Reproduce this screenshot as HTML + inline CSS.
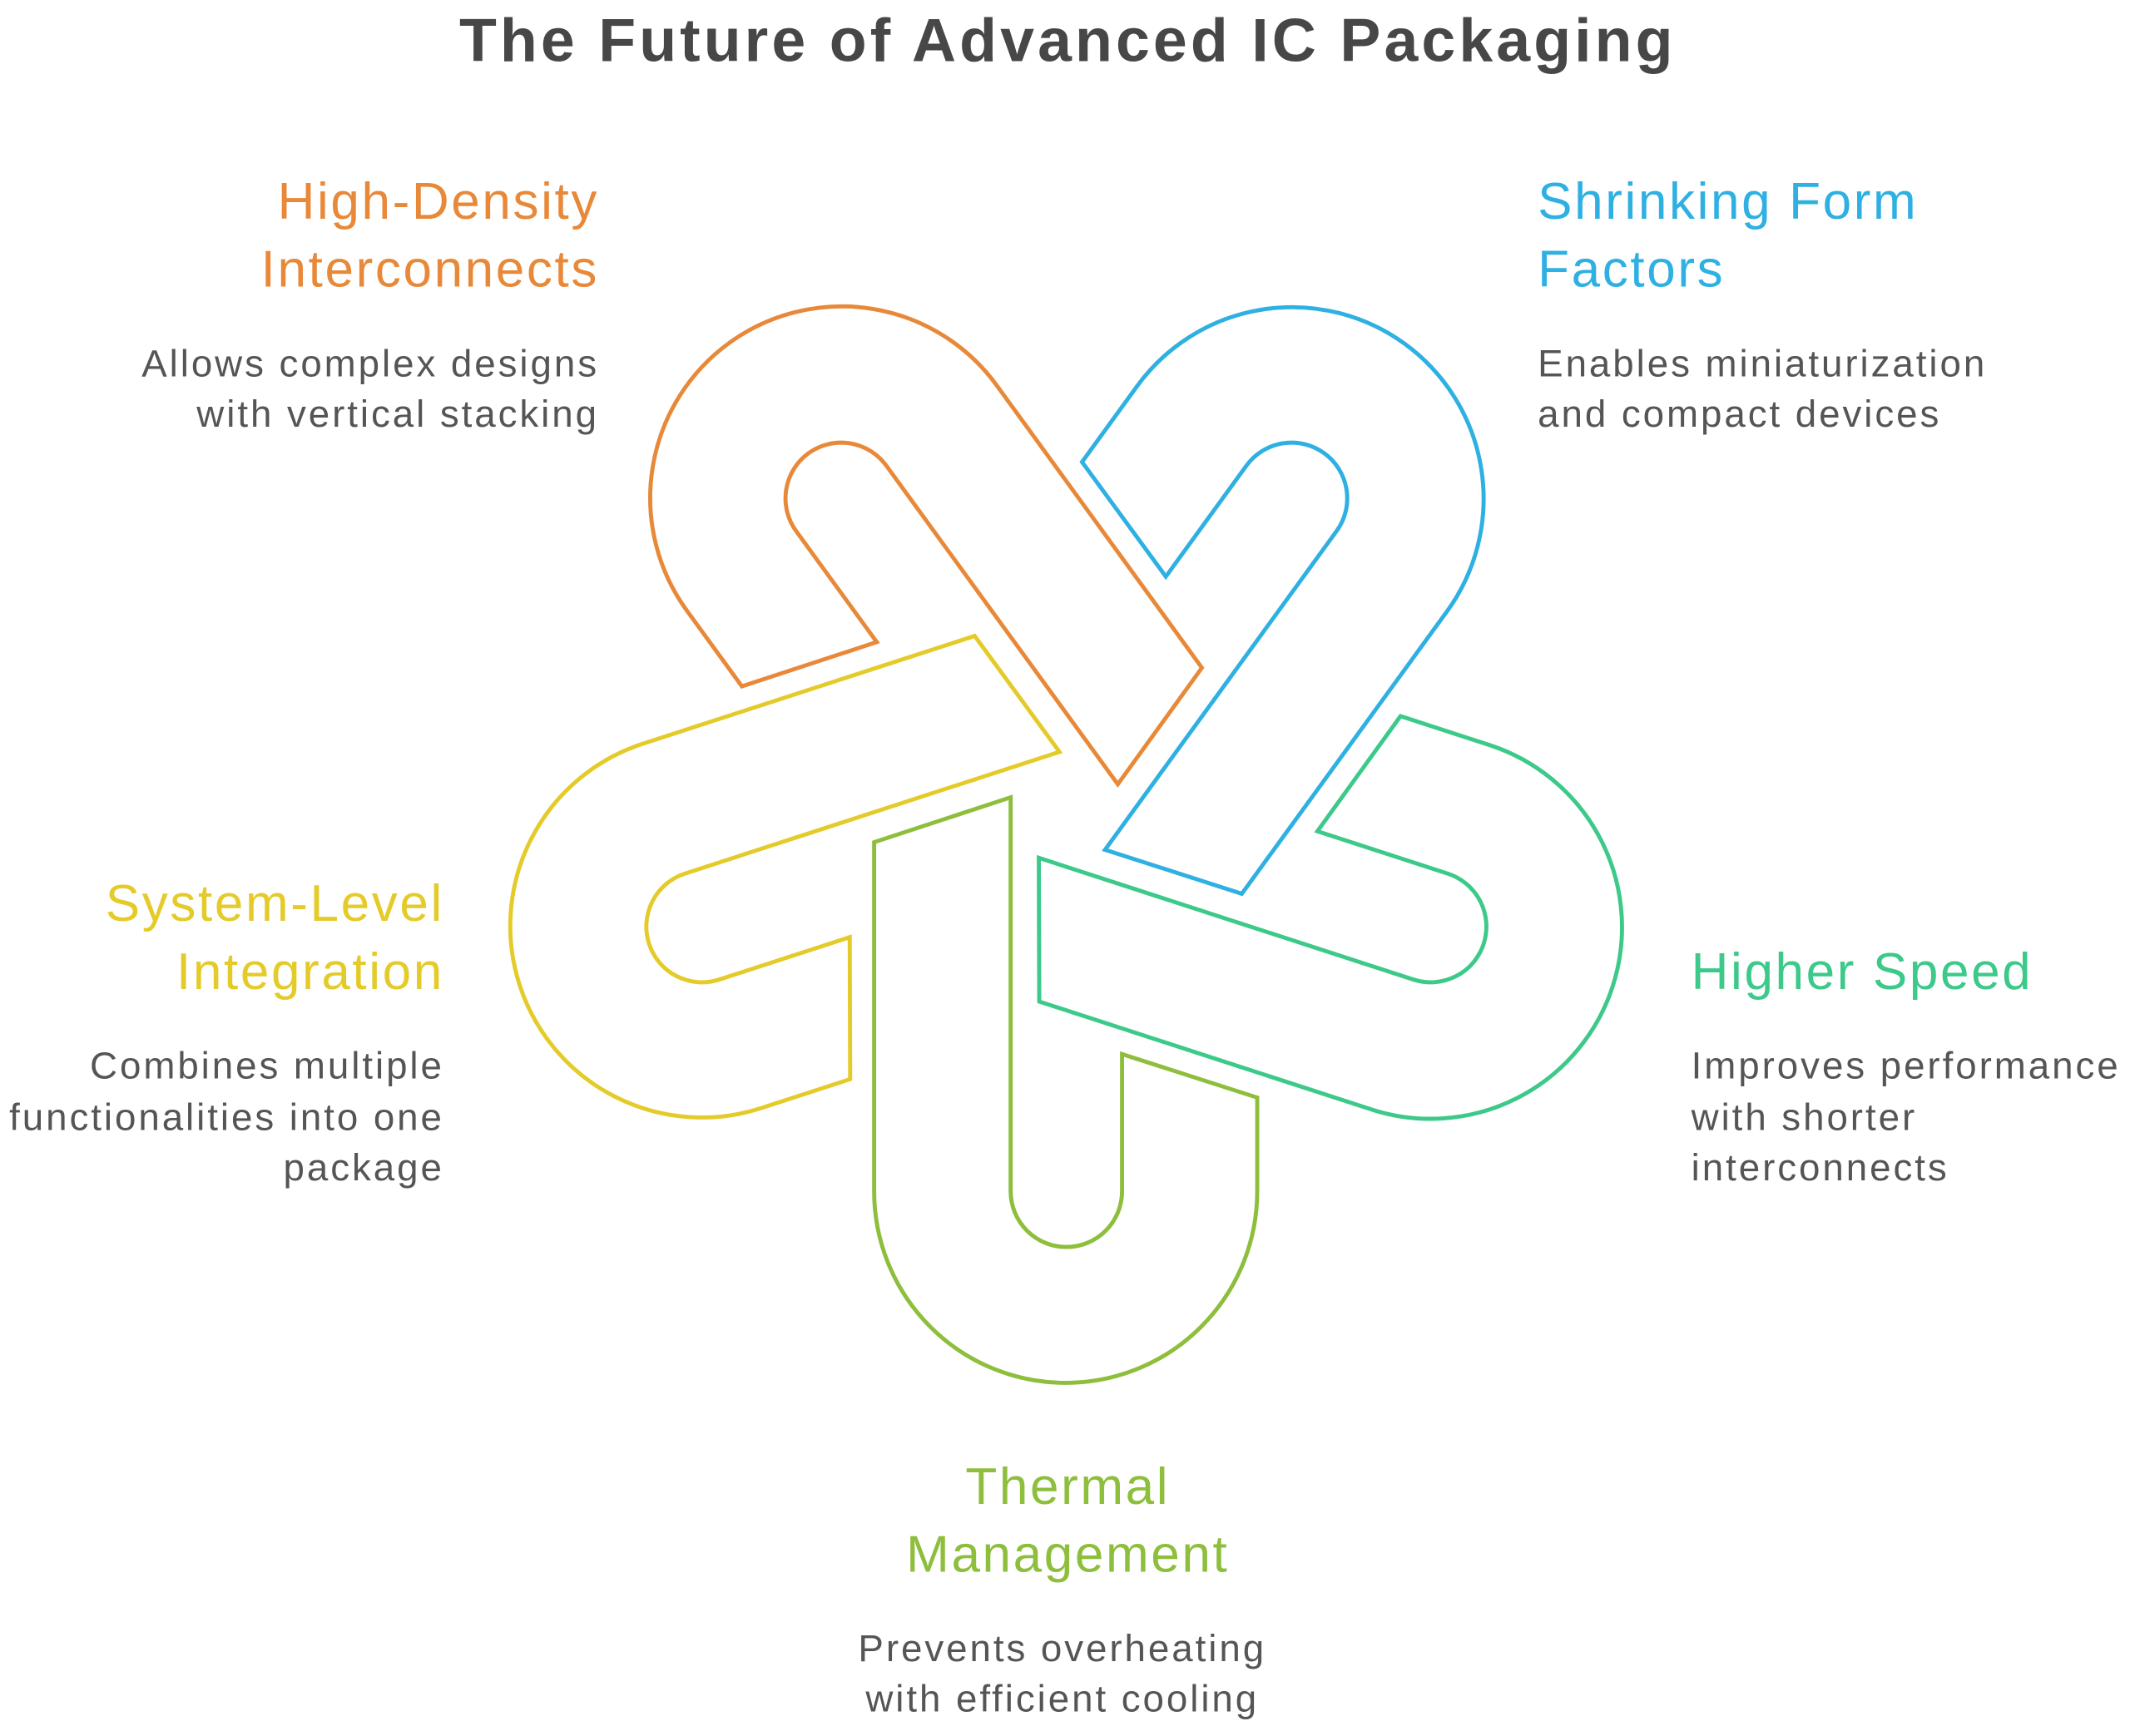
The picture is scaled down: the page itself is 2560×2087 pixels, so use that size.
<!DOCTYPE html>
<html><head><meta charset="utf-8"><style>
html,body{margin:0;padding:0;background:#fff;}
svg{display:block;}
</style></head><body>
<svg width="2560" height="2087" viewBox="0 0 1568 1278" preserveAspectRatio="none" xmlns="http://www.w3.org/2000/svg">
<defs>
<path id="u" d="M 643.5,620 L 643.5,877 A 141 141 0 0 0 925.5,877 L 925.5,808 L 826,776 L 826,877 A 41 41 0 0 1 744,877 L 744,587 Z" fill="none" stroke-width="3" stroke-linejoin="miter"/>
</defs>
<use href="#u" stroke="#8DBE3C"/>
<use href="#u" stroke="#3CC98A" transform="rotate(-72 785 595)"/>
<use href="#u" stroke="#2FB0E2" transform="rotate(-144 785 595)"/>
<use href="#u" stroke="#E8893A" transform="rotate(-216 785 595)"/>
<use href="#u" stroke="#E4CB2A" transform="rotate(-288 785 595)"/>

<g font-family="Liberation Sans, sans-serif">
<text x="786" y="45" text-anchor="middle" font-size="45" font-weight="bold" fill="#474747" letter-spacing="2.5">The Future of Advanced IC Packaging</text>

<g font-size="38" fill="#E8893A" text-anchor="end" letter-spacing="1.6">
<text x="441" y="161">High-Density</text>
<text x="441" y="211">Interconnects</text>
</g>
<g font-size="28" fill="#555" text-anchor="end" letter-spacing="1.8">
<text x="441" y="277">Allows complex designs</text>
<text x="441" y="314">with vertical stacking</text>
</g>

<g font-size="38" fill="#2FB0E2" letter-spacing="1.6">
<text x="1132" y="161">Shrinking Form</text>
<text x="1132" y="211">Factors</text>
</g>
<g font-size="28" fill="#555" letter-spacing="1.8">
<text x="1132" y="277">Enables miniaturization</text>
<text x="1132" y="314">and compact devices</text>
</g>

<g font-size="38" fill="#E4CB2A" text-anchor="end" letter-spacing="1.6">
<text x="327" y="678">System-Level</text>
<text x="327" y="728">Integration</text>
</g>
<g font-size="28" fill="#555" text-anchor="end" letter-spacing="1.8">
<text x="327" y="794">Combines multiple</text>
<text x="327" y="832">functionalities into one</text>
<text x="327" y="869">package</text>
</g>

<g font-size="38" fill="#3CC98A" letter-spacing="1.6">
<text x="1245" y="728">Higher Speed</text>
</g>
<g font-size="28" fill="#555" letter-spacing="1.8">
<text x="1245" y="794">Improves performance</text>
<text x="1245" y="832">with shorter</text>
<text x="1245" y="869">interconnects</text>
</g>

<g font-size="38" fill="#8DBE3C" text-anchor="middle" letter-spacing="1.6">
<text x="786" y="1107">Thermal</text>
<text x="786" y="1157">Management</text>
</g>
<g font-size="28" fill="#555" text-anchor="middle" letter-spacing="1.8">
<text x="782" y="1223">Prevents overheating</text>
<text x="782" y="1260">with efficient cooling</text>
</g>
</g>
</svg>
</body></html>
